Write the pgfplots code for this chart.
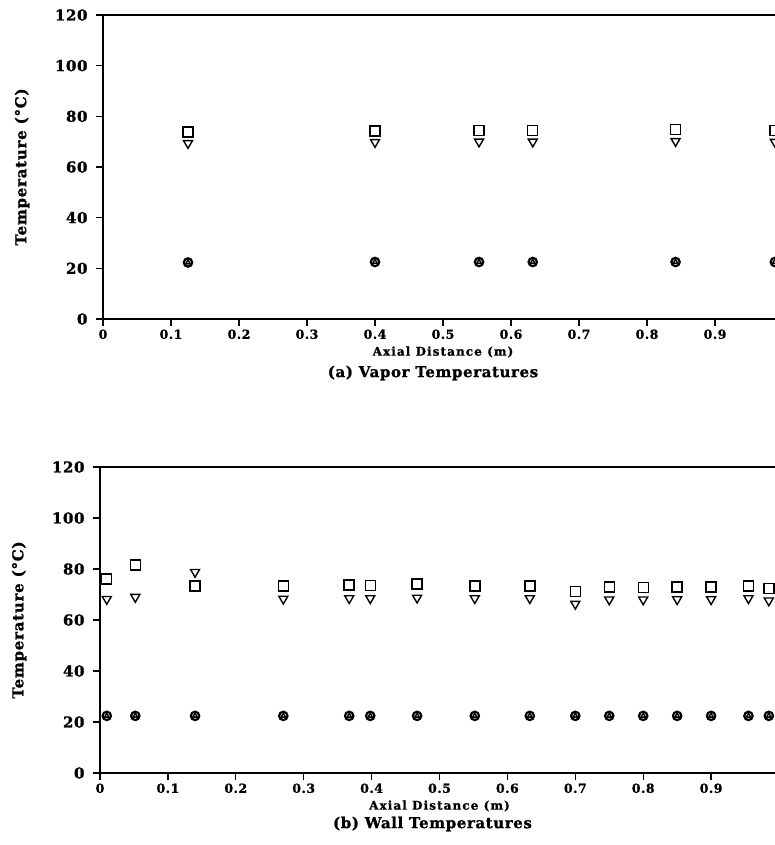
\documentclass[border=0pt]{standalone}
\usepackage{fontspec}
\setmainfont{DejaVu Serif}[BoldFeatures={FakeBold=1.2}]
\usepackage{pgfplots}
\pgfplotsset{compat=1.18}

% vapor temperatures
\pgfplotstableread{
x     sq    tri   low
0.125 73.8  69.4  22.3
0.400 74.2  69.8  22.5
0.553 74.3  70.0  22.5
0.632 74.3  70.0  22.5
0.842 74.8  70.2  22.5
0.988 74.5  69.9  22.5
}\vapor

% wall temperatures
\pgfplotstableread{
x     sq    tri   low
0.010 76.0  68.2  22.4
0.052 81.6  69.0  22.4
0.140 73.3  78.8  22.4
0.270 73.3  68.3  22.4
0.367 73.7  68.5  22.4
0.398 73.5  68.5  22.4
0.467 74.1  68.7  22.4
0.552 73.3  68.5  22.4
0.633 73.3  68.5  22.4
0.700 71.1  66.3  22.4
0.750 73.0  68.0  22.4
0.800 72.7  68.0  22.4
0.850 73.0  68.1  22.4
0.900 73.0  68.1  22.4
0.955 73.4  68.5  22.4
0.985 72.4  67.6  22.4
}\wall

\newcommand\capfont{\fontsize{15bp}{17bp}\selectfont\bfseries\addfontfeatures{LetterSpace=4}}

\pgfplotsset{
  tempax/.style={
    scale only axis, clip=false,
    axis lines*=left, axis line style={-, line width=1.3bp},
    tick align=outside, major tick length=7bp,
    every tick/.style={black, line width=1.3bp},
    xmin=0, xmax=1.0, ymin=0, ymax=120,
    xtick={0,0.1,0.2,0.3,0.4,0.5,0.6,0.7,0.8,0.9},
    ytick={0,20,40,60,80,100,120},
    /pgf/number format/assume math mode=true,
    xticklabel style={font=\fontsize{12.5bp}{14bp}\selectfont\bfseries\addfontfeatures{LetterSpace=4}},
    yticklabel style={xshift=-5bp, font=\fontsize{15bp}{17bp}\selectfont\bfseries\addfontfeatures{LetterSpace=4}},
    xlabel={Axial Distance (m)},
    ylabel={Temperature (°C)},
    every axis x label/.style={at={(axis description cs:0.5,0)}, anchor=center,
      yshift=-33bp, font=\fontsize{12bp}{14bp}\selectfont\bfseries\addfontfeatures{LetterSpace=9}},
    every axis y label/.style={at={(axis description cs:-0.119,0.5)}, anchor=center,
      rotate=90, font=\fontsize{15bp}{17bp}\selectfont\bfseries\addfontfeatures{LetterSpace=5}},
  },
  sqmk/.style={only marks, mark=square, mark size=5bp, mark options={line width=1.4bp, black}},
  trimk/.style={only marks, mark=triangle, mark size=5.2bp, mark options={rotate=180, line width=1.4bp, black}},
  cmk/.style={only marks, mark=o, mark size=4.2bp, mark options={line width=2.2bp, black}},
  tumk/.style={only marks, mark=triangle, mark size=2.6bp, mark options={line width=1.4bp, black}},
}

\begin{document}
\begin{tikzpicture}
\useasboundingbox (0,0) rectangle (775bp,845bp);

\begin{axis}[tempax, width=680bp, height=304bp, at={(103bp,526bp)}, anchor=south west]
  \addplot[sqmk] table[x=x, y=sq] {\vapor};
  \addplot[trimk] table[x=x, y=tri] {\vapor};
  \addplot[cmk] table[x=x, y=low] {\vapor};
  \addplot[tumk] table[x=x, y=low] {\vapor};
  \draw[line width=1.3bp] (rel axis cs:0,1) -- (rel axis cs:1,1);
  \node[font=\capfont] at (rel axis cs:0.5,0)
    [yshift=-54bp, xshift=-10bp] {(a) Vapor Temperatures};
\end{axis}

\begin{axis}[tempax, width=679bp, height=306bp, at={(100bp,72bp)}, anchor=south west]
  \addplot[sqmk] table[x=x, y=sq] {\wall};
  \addplot[trimk] table[x=x, y=tri] {\wall};
  \addplot[cmk] table[x=x, y=low] {\wall};
  \addplot[tumk] table[x=x, y=low] {\wall};
  \draw[line width=1.3bp] (rel axis cs:0,1) -- (rel axis cs:1,1);
  \node[font=\capfont] at (rel axis cs:0.5,0)
    [yshift=-51bp, xshift=-7bp] {(b) Wall Temperatures};
\end{axis}
\end{tikzpicture}
\end{document}
